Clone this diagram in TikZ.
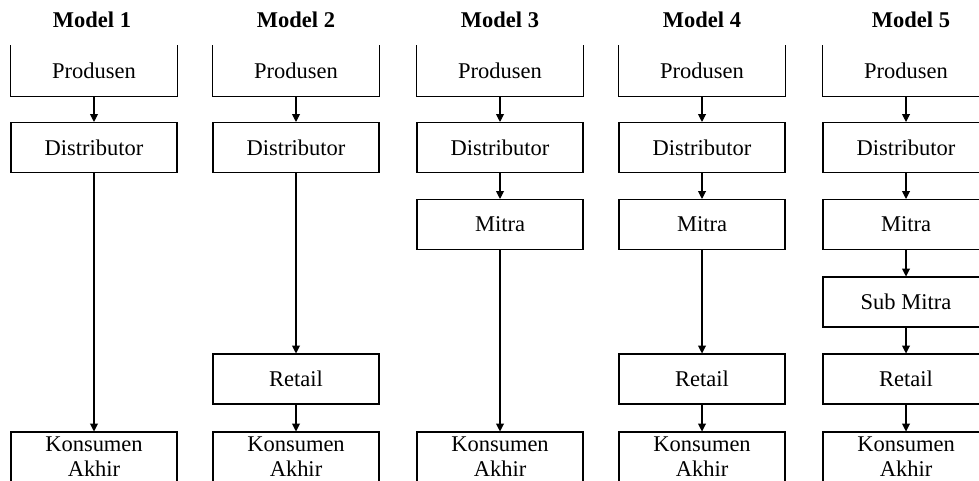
\documentclass[tikz,border=0pt]{standalone}
\usepackage{fontspec}
\setmainfont{Liberation Serif}
\usetikzlibrary{arrows.meta,positioning}
\tikzset{
  stage/.style={draw, line width=0.6pt, minimum width=3.32cm, minimum height=1cm, inner sep=0pt, align=center, font=\fontsize{12.8}{14.2}\selectfont},
  toprow/.style={stage, draw=none},
  title/.style={font=\fontsize{12.8}{14.2}\selectfont\bfseries},
  flow/.style={-{Triangle[length=4.5pt, width=4.5pt]}, line width=0.6pt},
}
\newcommand{\openbox}[1]{\draw[line width=0.6pt] (#1.north west) -- (#1.south west) -- (#1.south east) -- (#1.north east);}

\begin{document}
\begin{tikzpicture}
  \useasboundingbox (0,0) rectangle (19.58,-9.62);
  \clip (0,0) rectangle (19.58,-9.62);
  % every channel starts at the producer and ends at the consumer
  \foreach \i/\xx in {1/1.88, 2/5.92, 3/10.0, 4/14.04, 5/18.12}{
    \node[toprow] (p\i) at (\xx,-1.42) {Produsen};
    \openbox{p\i}
    \node[stage] (d\i) at (\xx,-2.95) {Distributor};
    \node[stage] (k\i) at (\xx,-9.14) {Konsumen\\Akhir};
    \draw[flow] (p\i) -- (d\i);
  }
  \foreach \i/\xx in {1/1.84, 2/5.92, 3/10.0, 4/14.04, 5/18.22}
    \node[title] (t\i) at (\xx,-0.40) {Model \i};
  % intermediate stages
  \node[stage] (r2) at (5.92,-7.58) {Retail};
  \node[stage] (m3) at (10.0,-4.49) {Mitra};
  \node[stage] (m4) at (14.04,-4.49) {Mitra};
  \node[stage] (r4) at (14.04,-7.58) {Retail};
  \node[stage] (m5) at (18.12,-4.49) {Mitra};
  \node[stage] (s5) at (18.12,-6.04) {Sub Mitra};
  \node[stage] (r5) at (18.12,-7.58) {Retail};
  % flows
  \draw[flow] (d1) -- (k1);
  \draw[flow] (d2) -- (r2);
  \draw[flow] (r2) -- (k2);
  \draw[flow] (d3) -- (m3);
  \draw[flow] (m3) -- (k3);
  \draw[flow] (d4) -- (m4);
  \draw[flow] (m4) -- (r4);
  \draw[flow] (r4) -- (k4);
  \draw[flow] (d5) -- (m5);
  \draw[flow] (m5) -- (s5);
  \draw[flow] (s5) -- (r5);
  \draw[flow] (r5) -- (k5);
\end{tikzpicture}
\end{document}
